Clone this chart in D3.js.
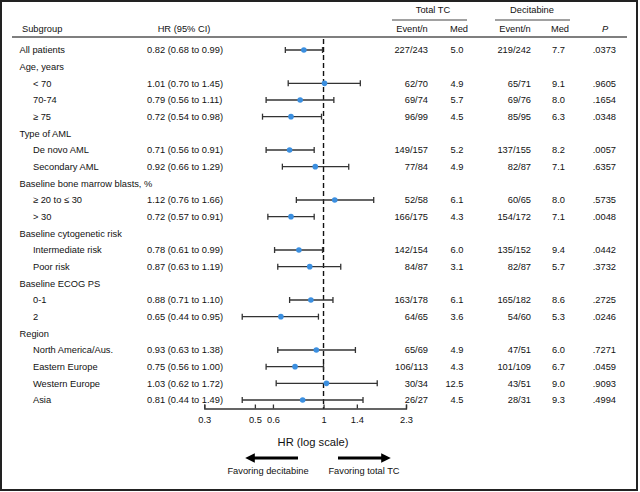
<!DOCTYPE html>
<html><head><meta charset="utf-8">
<script src="https://cdn.jsdelivr.net/npm/d3@7/dist/d3.min.js"></script>
<style>
html,body{margin:0;padding:0;background:#fff;}
text{font-family:"Liberation Sans",Arial,Helvetica,sans-serif;fill:#111;}
</style></head>
<body><svg id="c" width="640" height="492"></svg>
<script>
// ---- data ----
const labels = ["All patients","Age, years","< 70","70-74","\u2265 75","Type of AML","De novo AML","Secondary AML",
  "Baseline bone marrow blasts, %","\u2265 20 to \u2264 30","> 30","Baseline cytogenetic risk","Intermediate risk","Poor risk",
  "Baseline ECOG PS","0-1","2","Region","North America/Aus.","Eastern Europe","Western Europe","Asia"];
const indent = [0,0,1,1,1,0,1,1,0,1,1,0,1,1,0,1,1,0,1,1,1,1];
const hr    = [0.82,null,1.01,0.79,0.72,null,0.71,0.92,null,1.12,0.72,null,0.78,0.87,null,0.88,0.65,null,0.93,0.75,1.03,0.81];
const lower = [0.68,null,0.70,0.56,0.54,null,0.56,0.66,null,0.76,0.57,null,0.61,0.63,null,0.71,0.44,null,0.63,0.56,0.62,0.44];
const upper = [0.99,null,1.45,1.11,0.98,null,0.91,1.29,null,1.66,0.91,null,0.99,1.19,null,1.10,0.95,null,1.38,1.00,1.72,1.49];
const tcEvents  = ["227/243","","62/70","69/74","96/99","","149/157","77/84","","52/58","166/175","","142/154","84/87","","163/178","64/65","","65/69","106/113","30/34","26/27"];
const tcMed     = ["5.0","","4.9","5.7","4.5","","5.2","4.9","","6.1","4.3","","6.0","3.1","","6.1","3.6","","4.9","4.3","12.5","4.5"];
const decEvents = ["219/242","","65/71","69/76","85/95","","137/155","82/87","","60/65","154/172","","135/152","82/87","","165/182","54/60","","47/51","101/109","43/51","28/31"];
const decMed    = ["7.7","","9.1","8.0","6.3","","8.2","7.1","","8.0","7.1","","9.4","5.7","","8.6","5.3","","6.0","6.7","9.0","9.3"];
const pValues   = [".0373","",".9605",".1654",".0348","",".0057",".6357","",".5735",".0048","",".0442",".3732","",".2725",".0246","",".7271",".0459",".9093",".4994"];
const tickValues = [0.3,0.5,0.6,1,1.4,2.3];
const tickLabels = ["0.3","0.5","0.6","1","1.4","2.3"];

const fmt = d3.format(".2f");
const svg = d3.select("#c");
const FS = 9.3;

// frame
svg.append("rect").attr("x",1).attr("y",1).attr("width",636).attr("height",489)
  .attr("fill","none").attr("stroke","#222").attr("stroke-width",2);

const y = d3.scalePoint().domain(d3.range(labels.length)).range([50,400]);
const x = d3.scaleLog().domain([0.3,2.3]).range([204.3,406]);

// headers
const hdr = svg.append("g").attr("font-size",FS);
hdr.append("text").attr("x",22).attr("y",29).attr("dy","0.35em").text("Subgroup");
hdr.append("text").attr("x",184).attr("y",29).attr("dy","0.35em").attr("text-anchor","middle").text("HR (95% CI)");
hdr.append("text").attr("x",433).attr("y",10).attr("dy","0.35em").attr("text-anchor","middle").text("Total TC");
hdr.append("text").attr("x",532).attr("y",10).attr("dy","0.35em").attr("text-anchor","middle").text("Decitabine");
hdr.append("line").attr("x1",392).attr("x2",467).attr("y1",20).attr("y2",20).attr("stroke","#444").attr("stroke-width",1.2);
hdr.append("line").attr("x1",495).attr("x2",570).attr("y1",20).attr("y2",20).attr("stroke","#444").attr("stroke-width",1.2);
hdr.append("text").attr("x",412).attr("y",29).attr("dy","0.35em").attr("text-anchor","middle").text("Event/n");
hdr.append("text").attr("x",459).attr("y",29).attr("dy","0.35em").attr("text-anchor","middle").text("Med");
hdr.append("text").attr("x",515).attr("y",29).attr("dy","0.35em").attr("text-anchor","middle").text("Event/n");
hdr.append("text").attr("x",560).attr("y",29).attr("dy","0.35em").attr("text-anchor","middle").text("Med");
hdr.append("text").attr("x",605).attr("y",29).attr("dy","0.35em").attr("text-anchor","middle").attr("font-style","italic").text("P");
svg.append("line").attr("x1",12).attr("x2",627).attr("y1",37).attr("y2",37).attr("stroke","#555").attr("stroke-width",1.6);

// rows
const rows = svg.append("g").attr("font-size",FS).selectAll("g").data(labels).join("g")
  .attr("transform",(d,i)=>`translate(0,${y(i)})`);
rows.append("text").attr("x",(d,i)=>indent[i]?33:19.5).attr("dy","0.35em").text(d=>d);
rows.append("text").attr("x",147).attr("dy","0.35em")
  .text((d,i)=>hr[i]==null?"":`${fmt(hr[i])} (${fmt(lower[i])} to ${fmt(upper[i])})`);
rows.append("text").attr("x",428).attr("dy","0.35em").attr("text-anchor","end").text((d,i)=>tcEvents[i]);
rows.append("text").attr("x",463.5).attr("dy","0.35em").attr("text-anchor","end").text((d,i)=>tcMed[i]);
rows.append("text").attr("x",531).attr("dy","0.35em").attr("text-anchor","end").text((d,i)=>decEvents[i]);
rows.append("text").attr("x",565).attr("dy","0.35em").attr("text-anchor","end").text((d,i)=>decMed[i]);
rows.append("text").attr("x",616).attr("dy","0.35em").attr("text-anchor","end").text((d,i)=>pValues[i]);

// reference line
svg.append("line").attr("x1",x(1)).attr("x2",x(1)).attr("y1",39).attr("y2",409)
  .attr("stroke","#111").attr("stroke-width",1.4).attr("stroke-dasharray","5,3");

// CIs
const idx = d3.range(labels.length).filter(i=>hr[i]!=null);
const ci = svg.append("g").selectAll("g").data(idx).join("g").attr("transform",i=>`translate(0,${y(i)})`);
ci.append("line").attr("x1",i=>x(lower[i])).attr("x2",i=>x(upper[i])).attr("stroke","#333").attr("stroke-width",1.3);
ci.append("line").attr("x1",i=>x(lower[i])).attr("x2",i=>x(lower[i])).attr("y1",-3).attr("y2",3).attr("stroke","#333").attr("stroke-width",1.3);
ci.append("line").attr("x1",i=>x(upper[i])).attr("x2",i=>x(upper[i])).attr("y1",-3).attr("y2",3).attr("stroke","#333").attr("stroke-width",1.3);
ci.append("circle").attr("cx",i=>x(hr[i])).attr("r",2.8).attr("fill","#3b8fe0");

// axis
const ax = svg.append("g").attr("transform","translate(0,408.5)")
  .call(d3.axisBottom(x).tickValues(tickValues).tickFormat((d,i)=>tickLabels[i]).tickSize(-4).tickSizeOuter(-4).tickPadding(8));
ax.select(".domain").attr("stroke","#333").attr("stroke-width",1.3);
ax.selectAll(".tick line").attr("stroke","#333").attr("stroke-width",1.3);
ax.selectAll(".tick text").attr("font-size",FS).attr("font-family","Liberation Sans, Arial, sans-serif").attr("fill","#111");

svg.append("text").attr("x",313).attr("y",442).attr("dy","0.35em").attr("text-anchor","middle").attr("font-size",11.2).text("HR (log scale)");

// arrows
const defs = svg.append("defs");
defs.append("marker").attr("id","ah").attr("viewBox","0 0 10 10").attr("refX",5).attr("refY",5)
  .attr("markerWidth",3).attr("markerHeight",3).attr("orient","auto")
  .append("path").attr("d","M0,0 L10,5 L0,10 z").attr("fill","#000");
svg.append("line").attr("x1",298).attr("x2",250).attr("y1",458).attr("y2",458).attr("stroke","#000").attr("stroke-width",3.2).attr("marker-end","url(#ah)");
svg.append("line").attr("x1",338).attr("x2",386).attr("y1",458).attr("y2",458).attr("stroke","#000").attr("stroke-width",3.2).attr("marker-end","url(#ah)");
svg.append("text").attr("x",268).attr("y",471).attr("dy","0.35em").attr("text-anchor","middle").attr("font-size",FS).text("Favoring decitabine");
svg.append("text").attr("x",364).attr("y",471).attr("dy","0.35em").attr("text-anchor","middle").attr("font-size",FS).text("Favoring total TC");
</script></body></html>
